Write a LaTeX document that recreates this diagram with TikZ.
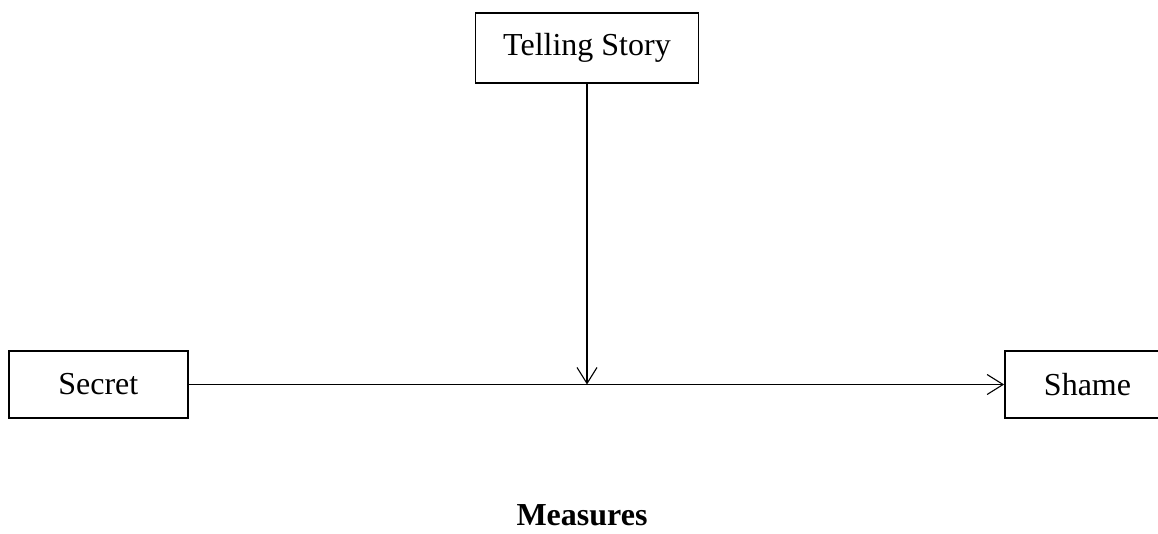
\documentclass[tikz,border=0pt]{standalone}
\usepackage{fontspec}
\setmainfont{Liberation Serif}
\usetikzlibrary{arrows.meta}
\tikzset{
  varbox/.style={draw, line width=1.8pt, rectangle, inner sep=0pt, font=\fontsize{32}{38}\selectfont},
  conn/.style={line width=1.1pt, -{Straight Barb[length=16pt,width=20pt,line width=1.1pt]}},
}
\begin{document}
\begin{tikzpicture}[x=1pt,y=-1pt]
\useasboundingbox (0,0) rectangle (1158,533);
\node[varbox, minimum width=223pt, minimum height=70pt] (tell) at (587,47.7) {Telling Story};
\node[varbox, minimum width=179pt, minimum height=67.6pt] (secret) at (98.3,384.5) {Secret};
\node[varbox, minimum width=165pt, minimum height=67.6pt] (shame) at (1087.5,384.5) {Shame};
\coordinate (meet) at (tell.south |- secret.east);
\draw[conn] (secret.east) -- (shame.west);
\draw[conn] (tell.south) -- (meet);
\node[font=\fontsize{32}{38}\selectfont\bfseries, anchor=base, inner sep=0pt] (measures) at (582,525) {Measures};
\end{tikzpicture}
\end{document}
